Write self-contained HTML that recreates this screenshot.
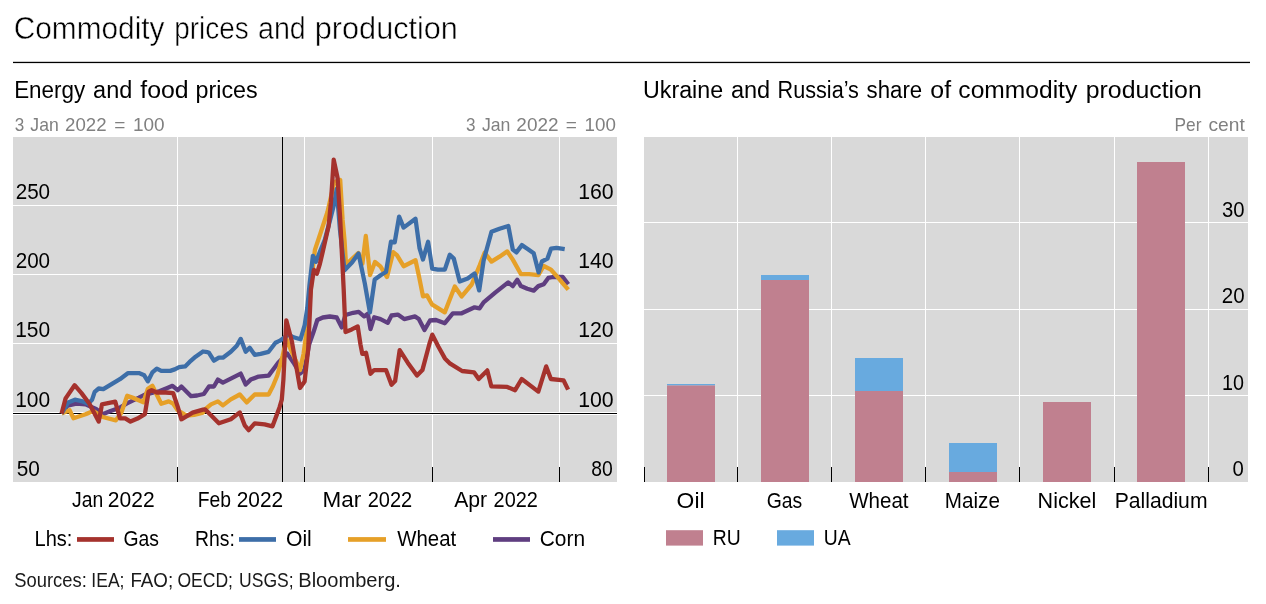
<!DOCTYPE html><html><head><meta charset="utf-8"><style>html,body{margin:0;padding:0;background:#fff;}svg{display:block;will-change:transform;}text{font-family:"Liberation Sans",sans-serif;}</style></head><body>
<svg width="1266" height="604" viewBox="0 0 1266 604">
<rect width="1266" height="604" fill="#ffffff"/>
<rect x="13" y="61.8" width="1237" height="1.3" fill="#000"/>
<rect x="13" y="137" width="604" height="345" fill="#d9d9d9"/>
<rect x="13" y="205" width="604" height="1" fill="#ffffff"/>
<rect x="13" y="274" width="604" height="1" fill="#ffffff"/>
<rect x="13" y="343" width="604" height="1" fill="#ffffff"/>
<rect x="177" y="137" width="1" height="345" fill="#ffffff"/>
<rect x="304" y="137" width="1" height="345" fill="#ffffff"/>
<rect x="432" y="137" width="1" height="345" fill="#ffffff"/>
<rect x="559" y="137" width="1" height="345" fill="#ffffff"/>
<rect x="177" y="467" width="1" height="15" fill="#000"/>
<rect x="304" y="467" width="1" height="15" fill="#000"/>
<rect x="432" y="467" width="1" height="15" fill="#000"/>
<rect x="559" y="467" width="1" height="15" fill="#000"/>
<rect x="13" y="412" width="604" height="3" fill="#ffffff"/>
<rect x="13" y="413" width="604" height="1" fill="#000"/>
<rect x="282" y="137" width="1" height="345" fill="#000"/>
<polyline points="61.6,413.6 67.6,405.7 76.2,403.7 85.5,404.4 96.1,409.0 102.7,414.3 110.6,411.0 119.9,407.7 126.5,403.7 133.1,400.4 138.9,397.7 144.9,394.7 152.0,393.0 159.8,391.0 167.3,388.0 172.5,385.8 177.7,390.2 181.4,386.5 186.6,391.7 191.1,396.2 197.1,395.5 203.8,394.0 209.0,386.5 213.9,386.5 217.9,379.6 222.9,382.6 230.8,378.6 240.7,373.6 245.7,384.5 250.7,379.6 258.6,376.6 268.6,375.6 274.5,367.7 278.2,362.7 287.3,353.6 293.6,362.7 300.0,373.6 304.5,370.0 309.1,344.5 313.6,331.8 317.3,320.0 322.8,317.5 329.8,316.5 336.7,317.5 341.7,327.4 345.5,315.0 353.2,312.8 358.7,311.9 364.1,316.4 367.8,313.7 370.5,329.2 374.2,317.3 380.5,319.1 387.8,322.8 391.5,315.5 397.8,314.6 404.2,319.1 415.1,316.4 418.8,319.1 424.5,330.0 430.0,320.5 436.0,320.0 444.8,323.2 452.8,313.3 461.7,313.3 474.6,307.3 479.6,308.3 483.6,302.4 495.5,292.4 508.2,282.4 512.8,286.1 517.3,279.7 520.9,286.1 527.3,288.8 533.7,290.6 538.3,286.1 543.7,284.2 548.3,277.9 552.8,277.0 562.8,277.0 568.3,284.2" fill="none" stroke="#5f3e80" stroke-width="4.3" stroke-linejoin="round" stroke-linecap="butt"/>
<polyline points="61.6,413.6 69.6,410.3 73.5,418.3 85.5,414.3 93.4,411.0 102.7,417.0 115.9,420.3 121.2,413.0 127.2,395.8 134.5,398.4 143.4,402.2 147.9,388.7 152.4,385.8 156.8,394.7 161.3,403.7 168.7,401.4 173.2,403.7 177.7,410.4 186.6,415.6 194.1,414.8 203.0,412.6 205.0,409.4 211.0,404.4 217.9,401.4 222.9,405.4 230.8,399.4 239.8,394.5 246.7,402.4 254.7,394.5 268.6,394.5 273.0,386.0 277.3,375.5 282.7,355.5 286.4,339.1 291.8,351.8 300.0,370.0 303.6,353.6 307.3,326.4 309.1,308.2 312.0,275.0 314.9,249.9 318.9,238.0 327.4,212.2 334.4,182.0 340.2,180.0 342.6,220.0 344.5,240.0 346.0,264.6 358.3,253.0 362.4,263.8 365.8,236.0 370.0,275.0 375.0,262.0 380.4,266.4 387.0,277.0 393.2,252.1 396.9,255.1 403.6,266.2 415.5,260.3 419.2,277.4 423.0,296.4 427.0,295.4 431.9,304.3 444.8,312.3 454.8,286.5 461.7,296.4 471.7,284.5 479.6,265.6 484.6,252.7 491.5,261.6 499.5,256.7 507.3,251.4 512.8,259.6 521.0,274.2 529.1,274.2 538.3,275.1 543.7,266.0 551.0,269.7 558.3,277.9 562.8,283.3 568.3,289.7" fill="none" stroke="#e6a028" stroke-width="4.3" stroke-linejoin="round" stroke-linecap="butt"/>
<polyline points="61.6,413.6 64.3,409.0 68.2,402.4 74.9,399.7 81.5,401.1 88.1,403.7 92.1,399.7 94.7,391.8 98.7,388.5 103.3,389.1 112.0,383.8 119.9,379.2 127.8,373.2 134.5,373.2 138.9,373.1 144.2,375.3 147.9,381.3 152.4,372.4 156.8,368.6 161.3,370.9 170.2,370.9 174.7,369.4 179.2,367.1 185.1,366.4 189.6,361.9 195.6,356.7 203.0,351.5 207.5,352.2 209.0,352.8 213.9,360.7 218.9,357.7 222.9,357.7 230.8,351.8 236.8,345.8 240.7,338.9 245.7,351.8 249.7,347.8 254.7,354.8 260.6,353.8 268.6,351.8 275.5,342.8 279.5,340.9 283.0,338.5 288.2,334.5 293.6,337.3 300.5,339.3 304.7,325.0 307.3,308.2 309.5,285.0 312.9,255.8 315.9,261.8 319.9,251.9 324.8,239.9 329.7,221.5 334.4,203.0 336.7,189.0 340.0,230.0 344.5,270.3 352.0,262.5 358.5,253.5 364.8,283.4 369.9,312.5 374.7,279.5 381.7,274.5 386.0,272.0 391.0,241.7 394.7,242.4 399.1,216.6 403.6,227.6 415.5,218.7 419.5,248.0 423.0,259.5 428.1,241.8 432.2,268.6 437.9,269.6 444.8,269.6 449.8,254.7 453.8,258.6 459.7,281.5 467.7,278.5 474.6,273.5 479.2,290.4 483.6,260.6 491.5,231.8 499.5,228.8 508.3,226.0 512.8,249.6 516.4,252.4 521.9,245.1 527.3,248.7 533.7,253.3 538.6,272.4 541.9,261.5 547.4,258.7 551.0,248.7 556.5,247.8 564.7,249.1" fill="none" stroke="#3d6ea8" stroke-width="4.3" stroke-linejoin="round" stroke-linecap="butt"/>
<polyline points="61.6,413.6 65.6,398.4 74.6,385.2 81.5,393.1 89.4,403.7 98.7,421.6 102.0,404.4 115.3,401.7 119.9,418.3 125.2,418.3 130.5,421.6 137.5,418.6 144.9,414.1 148.6,391.7 151.6,390.2 156.8,392.5 165.8,392.5 173.2,393.2 177.7,406.6 181.4,419.3 192.6,412.6 203.0,409.6 205.0,409.4 211.0,415.3 218.9,423.3 230.8,419.3 239.8,412.4 244.7,425.3 248.7,430.2 254.7,423.3 264.6,424.3 272.5,426.3 279.5,407.4 281.8,399.6 283.4,379.6 286.3,320.3 291.9,341.5 300.0,388.0 304.6,381.5 308.2,349.0 310.9,289.6 313.9,269.8 316.9,273.7 319.9,263.8 322.8,251.6 328.6,226.1 330.9,203.0 333.7,159.7 337.6,178.0 340.2,219.2 343.7,289.6 345.5,332.0 351.7,329.4 357.7,326.4 360.5,344.6 362.3,353.8 366.0,352.8 370.5,373.8 374.2,370.1 386.0,370.1 391.5,384.7 395.1,381.1 399.7,350.1 407.9,362.9 417.0,375.6 422.4,370.1 429.7,342.8 432.3,334.6 438.3,346.5 444.9,358.4 450.2,363.7 462.1,371.0 474.0,372.3 478.7,379.0 487.3,370.4 491.3,386.3 507.2,386.9 515.1,390.2 521.7,379.0 538.3,391.6 546.2,366.4 550.9,379.0 563.5,380.3 568.1,389.6" fill="none" stroke="#a5322d" stroke-width="4.3" stroke-linejoin="round" stroke-linecap="butt"/>
<rect x="644" y="137" width="604" height="345" fill="#d9d9d9"/>
<rect x="644" y="222" width="604" height="1" fill="#ffffff"/>
<rect x="644" y="309" width="604" height="1" fill="#ffffff"/>
<rect x="644" y="395" width="604" height="1" fill="#ffffff"/>
<rect x="737" y="137" width="1" height="345" fill="#ffffff"/>
<rect x="831" y="137" width="1" height="345" fill="#ffffff"/>
<rect x="925" y="137" width="1" height="345" fill="#ffffff"/>
<rect x="1019" y="137" width="1" height="345" fill="#ffffff"/>
<rect x="1114" y="137" width="1" height="345" fill="#ffffff"/>
<rect x="1208" y="137" width="1" height="345" fill="#ffffff"/>
<rect x="644" y="467" width="1" height="15" fill="#000"/>
<rect x="737" y="467" width="1" height="15" fill="#000"/>
<rect x="831" y="467" width="1" height="15" fill="#000"/>
<rect x="925" y="467" width="1" height="15" fill="#000"/>
<rect x="1019" y="467" width="1" height="15" fill="#000"/>
<rect x="1114" y="467" width="1" height="15" fill="#000"/>
<rect x="1208" y="467" width="1" height="15" fill="#000"/>
<rect x="667" y="384.0" width="48" height="1.50" fill="#68aadf"/>
<rect x="667" y="385.5" width="48" height="96.50" fill="#c0808f"/>
<rect x="761" y="275.0" width="48" height="5.00" fill="#68aadf"/>
<rect x="761" y="280.0" width="48" height="202.00" fill="#c0808f"/>
<rect x="855" y="358.0" width="48" height="33.00" fill="#68aadf"/>
<rect x="855" y="391.0" width="48" height="91.00" fill="#c0808f"/>
<rect x="949" y="443.0" width="48" height="29.00" fill="#68aadf"/>
<rect x="949" y="472.0" width="48" height="10.00" fill="#c0808f"/>
<rect x="1043" y="402.0" width="48" height="80.00" fill="#c0808f"/>
<rect x="1137" y="162.0" width="48" height="320.00" fill="#c0808f"/>
<rect x="666" y="530.2" width="37" height="15.4" fill="#c0808f"/>
<rect x="777" y="530.2" width="37" height="15.4" fill="#68aadf"/>
<rect x="77" y="537.1" width="37" height="4.7" fill="#a5322d"/>
<rect x="239" y="537.1" width="37" height="4.7" fill="#3d6ea8"/>
<rect x="348" y="537.1" width="38" height="4.7" fill="#e6a028"/>
<rect x="493" y="537.1" width="37" height="4.7" fill="#5f3e80"/>
<text x="13.71" y="38.50" font-size="31" fill="#000000" textLength="150.84" lengthAdjust="spacingAndGlyphs" stroke="#ffffff" stroke-width="0.5">Commodity</text>
<text x="174.18" y="38.50" font-size="31" fill="#000000" textLength="74.49" lengthAdjust="spacingAndGlyphs" stroke="#ffffff" stroke-width="0.5">prices</text>
<text x="257.98" y="38.50" font-size="31" fill="#000000" textLength="47.73" lengthAdjust="spacingAndGlyphs" stroke="#ffffff" stroke-width="0.5">and</text>
<text x="314.81" y="38.50" font-size="31" fill="#000000" textLength="143.11" lengthAdjust="spacingAndGlyphs" stroke="#ffffff" stroke-width="0.5">production</text>
<text x="14.15" y="98.00" font-size="23" fill="#000000" textLength="71.03" lengthAdjust="spacingAndGlyphs">Energy</text>
<text x="93.10" y="98.00" font-size="23" fill="#000000" textLength="39.19" lengthAdjust="spacingAndGlyphs">and</text>
<text x="140.33" y="98.00" font-size="23" fill="#000000" textLength="48.35" lengthAdjust="spacingAndGlyphs">food</text>
<text x="195.59" y="98.00" font-size="23" fill="#000000" textLength="62.13" lengthAdjust="spacingAndGlyphs">prices</text>
<text x="643.10" y="97.80" font-size="23" fill="#000000" textLength="80.01" lengthAdjust="spacingAndGlyphs">Ukraine</text>
<text x="730.90" y="97.80" font-size="23" fill="#000000" textLength="39.30" lengthAdjust="spacingAndGlyphs">and</text>
<text x="777.62" y="97.80" font-size="23" fill="#000000" textLength="81.26" lengthAdjust="spacingAndGlyphs">Russia’s</text>
<text x="866.59" y="97.80" font-size="23" fill="#000000" textLength="55.59" lengthAdjust="spacingAndGlyphs">share</text>
<text x="930.35" y="97.80" font-size="23" fill="#000000" textLength="20.72" lengthAdjust="spacingAndGlyphs">of</text>
<text x="958.35" y="97.80" font-size="23" fill="#000000" textLength="118.90" lengthAdjust="spacingAndGlyphs">commodity</text>
<text x="1085.77" y="97.80" font-size="23" fill="#000000" textLength="116.00" lengthAdjust="spacingAndGlyphs">production</text>
<text x="14.65" y="130.50" font-size="19" fill="#808080" textLength="9.51" lengthAdjust="spacingAndGlyphs">3</text>
<text x="30.34" y="130.50" font-size="19" fill="#808080" textLength="28.41" lengthAdjust="spacingAndGlyphs">Jan</text>
<text x="65.07" y="130.50" font-size="19" fill="#808080" textLength="41.51" lengthAdjust="spacingAndGlyphs">2022</text>
<text x="114.39" y="130.50" font-size="19" fill="#808080" textLength="11.14" lengthAdjust="spacingAndGlyphs">=</text>
<text x="132.88" y="130.50" font-size="19" fill="#808080" textLength="31.65" lengthAdjust="spacingAndGlyphs">100</text>
<text x="466.05" y="130.50" font-size="19" fill="#808080" textLength="9.51" lengthAdjust="spacingAndGlyphs">3</text>
<text x="481.93" y="130.50" font-size="19" fill="#808080" textLength="28.51" lengthAdjust="spacingAndGlyphs">Jan</text>
<text x="516.35" y="130.50" font-size="19" fill="#808080" textLength="42.14" lengthAdjust="spacingAndGlyphs">2022</text>
<text x="565.89" y="130.50" font-size="19" fill="#808080" textLength="11.14" lengthAdjust="spacingAndGlyphs">=</text>
<text x="584.59" y="130.50" font-size="19" fill="#808080" textLength="31.33" lengthAdjust="spacingAndGlyphs">100</text>
<text x="1174.57" y="130.50" font-size="19" fill="#808080" textLength="26.91" lengthAdjust="spacingAndGlyphs">Per</text>
<text x="1208.48" y="130.50" font-size="19" fill="#808080" textLength="36.26" lengthAdjust="spacingAndGlyphs">cent</text>
<text x="15.67" y="199.00" font-size="21.5" fill="#000000" textLength="34.43" lengthAdjust="spacingAndGlyphs">250</text>
<text x="15.67" y="268.20" font-size="21.5" fill="#000000" textLength="34.43" lengthAdjust="spacingAndGlyphs">200</text>
<text x="15.13" y="337.40" font-size="21.5" fill="#000000" textLength="34.98" lengthAdjust="spacingAndGlyphs">150</text>
<text x="15.13" y="406.70" font-size="21.5" fill="#000000" textLength="34.98" lengthAdjust="spacingAndGlyphs">100</text>
<text x="16.77" y="475.90" font-size="21.5" fill="#000000" textLength="23.16" lengthAdjust="spacingAndGlyphs">50</text>
<text x="578.20" y="199.00" font-size="21.5" fill="#000000" textLength="35.52" lengthAdjust="spacingAndGlyphs">160</text>
<text x="578.20" y="268.20" font-size="21.5" fill="#000000" textLength="35.52" lengthAdjust="spacingAndGlyphs">140</text>
<text x="578.20" y="337.40" font-size="21.5" fill="#000000" textLength="35.52" lengthAdjust="spacingAndGlyphs">120</text>
<text x="578.20" y="406.70" font-size="21.5" fill="#000000" textLength="35.52" lengthAdjust="spacingAndGlyphs">100</text>
<text x="591.36" y="475.90" font-size="21.5" fill="#000000" textLength="21.52" lengthAdjust="spacingAndGlyphs">80</text>
<text x="72.08" y="507.40" font-size="21.5" fill="#000000" textLength="31.20" lengthAdjust="spacingAndGlyphs">Jan</text>
<text x="107.85" y="507.40" font-size="21.5" fill="#000000" textLength="46.75" lengthAdjust="spacingAndGlyphs">2022</text>
<text x="197.67" y="507.40" font-size="21.5" fill="#000000" textLength="33.34" lengthAdjust="spacingAndGlyphs">Feb</text>
<text x="236.76" y="507.40" font-size="21.5" fill="#000000" textLength="46.43" lengthAdjust="spacingAndGlyphs">2022</text>
<text x="322.55" y="507.40" font-size="21.5" fill="#000000" textLength="38.68" lengthAdjust="spacingAndGlyphs">Mar</text>
<text x="367.70" y="507.40" font-size="21.5" fill="#000000" textLength="44.55" lengthAdjust="spacingAndGlyphs">2022</text>
<text x="454.15" y="507.40" font-size="21.5" fill="#000000" textLength="33.00" lengthAdjust="spacingAndGlyphs">Apr</text>
<text x="493.61" y="507.40" font-size="21.5" fill="#000000" textLength="44.23" lengthAdjust="spacingAndGlyphs">2022</text>
<text x="676.61" y="507.60" font-size="21.5" fill="#000000" textLength="27.92" lengthAdjust="spacingAndGlyphs">Oil</text>
<text x="766.75" y="507.60" font-size="21.5" fill="#000000" textLength="35.49" lengthAdjust="spacingAndGlyphs">Gas</text>
<text x="849.20" y="507.60" font-size="21.5" fill="#000000" textLength="59.36" lengthAdjust="spacingAndGlyphs">Wheat</text>
<text x="944.80" y="507.60" font-size="21.5" fill="#000000" textLength="55.08" lengthAdjust="spacingAndGlyphs">Maize</text>
<text x="1037.62" y="507.60" font-size="21.5" fill="#000000" textLength="58.64" lengthAdjust="spacingAndGlyphs">Nickel</text>
<text x="1114.66" y="507.60" font-size="21.5" fill="#000000" textLength="92.85" lengthAdjust="spacingAndGlyphs">Palladium</text>
<text x="1222.04" y="216.80" font-size="21.5" fill="#000000" textLength="22.57" lengthAdjust="spacingAndGlyphs">30</text>
<text x="1221.77" y="303.00" font-size="21.5" fill="#000000" textLength="22.85" lengthAdjust="spacingAndGlyphs">20</text>
<text x="1221.92" y="390.00" font-size="21.5" fill="#000000" textLength="21.97" lengthAdjust="spacingAndGlyphs">10</text>
<text x="1232.59" y="476.40" font-size="21.5" fill="#000000" textLength="11.30" lengthAdjust="spacingAndGlyphs">0</text>
<text x="34.55" y="545.50" font-size="21.5" fill="#000000" textLength="37.86" lengthAdjust="spacingAndGlyphs">Lhs:</text>
<text x="123.55" y="545.50" font-size="21.5" fill="#000000" textLength="35.49" lengthAdjust="spacingAndGlyphs">Gas</text>
<text x="195.04" y="545.50" font-size="21.5" fill="#000000" textLength="39.79" lengthAdjust="spacingAndGlyphs">Rhs:</text>
<text x="286.00" y="545.50" font-size="21.5" fill="#000000" textLength="25.82" lengthAdjust="spacingAndGlyphs">Oil</text>
<text x="397.30" y="545.50" font-size="21.5" fill="#000000" textLength="58.86" lengthAdjust="spacingAndGlyphs">Wheat</text>
<text x="539.75" y="545.50" font-size="21.5" fill="#000000" textLength="45.35" lengthAdjust="spacingAndGlyphs">Corn</text>
<text x="712.67" y="545.30" font-size="21.5" fill="#000000" textLength="27.95" lengthAdjust="spacingAndGlyphs">RU</text>
<text x="823.83" y="545.30" font-size="21.5" fill="#000000" textLength="26.88" lengthAdjust="spacingAndGlyphs">UA</text>
<text x="14.27" y="586.70" font-size="19.5" fill="#1a1a1a" textLength="72.51" lengthAdjust="spacingAndGlyphs">Sources:</text>
<text x="91.34" y="586.70" font-size="19.5" fill="#1a1a1a" textLength="33.16" lengthAdjust="spacingAndGlyphs">IEA;</text>
<text x="130.45" y="586.70" font-size="19.5" fill="#1a1a1a" textLength="42.75" lengthAdjust="spacingAndGlyphs">FAO;</text>
<text x="177.43" y="586.70" font-size="19.5" fill="#1a1a1a" textLength="55.58" lengthAdjust="spacingAndGlyphs">OECD;</text>
<text x="239.10" y="586.70" font-size="19.5" fill="#1a1a1a" textLength="54.61" lengthAdjust="spacingAndGlyphs">USGS;</text>
<text x="298.24" y="586.70" font-size="19.5" fill="#1a1a1a" textLength="102.69" lengthAdjust="spacingAndGlyphs">Bloomberg.</text>
</svg></body></html>
